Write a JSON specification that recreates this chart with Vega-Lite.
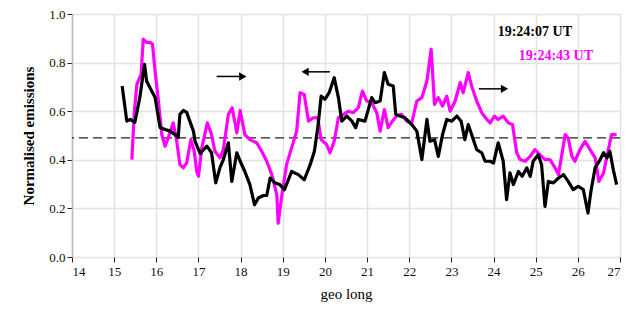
{
  "$schema": "https://vega.github.io/schema/vega-lite/v6.json",
  "autosize": {"type": "none"},
  "padding": {"left": 72, "top": 14, "right": 12, "bottom": 52},
  "width": 548,
  "height": 243,
  "background": "white",
  "config": {
    "view": {"stroke": null},
    "font": "Liberation Serif",
    "axis": {
      "labelFont": "Liberation Serif",
      "titleFont": "Liberation Serif",
      "labelFontSize": 13,
      "labelColor": "#111",
      "gridColor": "#e2e2e2",
      "gridWidth": 1.5,
      "tickColor": "#222",
      "tickSize": 5,
      "domainColor": "#bbbbbb",
      "domainWidth": 1.5
    }
  },
  "datasets": {
    "lines": [
      {"s": "b", "x": 15.19, "y": 0.704}, {"s": "b", "x": 15.30, "y": 0.559}, {"s": "b", "x": 15.38, "y": 0.566}, {"s": "b", "x": 15.49, "y": 0.554},
      {"s": "b", "x": 15.61, "y": 0.657}, {"s": "b", "x": 15.72, "y": 0.793}, {"s": "b", "x": 15.77, "y": 0.724}, {"s": "b", "x": 15.89, "y": 0.683},
      {"s": "b", "x": 15.97, "y": 0.657}, {"s": "b", "x": 16.09, "y": 0.533}, {"s": "b", "x": 16.21, "y": 0.525}, {"s": "b", "x": 16.33, "y": 0.518},
      {"s": "b", "x": 16.44, "y": 0.504}, {"s": "b", "x": 16.52, "y": 0.492}, {"s": "b", "x": 16.56, "y": 0.587}, {"s": "b", "x": 16.64, "y": 0.603},
      {"s": "b", "x": 16.72, "y": 0.595}, {"s": "b", "x": 16.88, "y": 0.518}, {"s": "b", "x": 16.92, "y": 0.476}, {"s": "b", "x": 17.04, "y": 0.426},
      {"s": "b", "x": 17.20, "y": 0.456}, {"s": "b", "x": 17.31, "y": 0.429}, {"s": "b", "x": 17.41, "y": 0.305}, {"s": "b", "x": 17.51, "y": 0.368},
      {"s": "b", "x": 17.59, "y": 0.401}, {"s": "b", "x": 17.71, "y": 0.470}, {"s": "b", "x": 17.79, "y": 0.311}, {"s": "b", "x": 17.91, "y": 0.429},
      {"s": "b", "x": 17.99, "y": 0.394}, {"s": "b", "x": 18.10, "y": 0.352}, {"s": "b", "x": 18.22, "y": 0.298}, {"s": "b", "x": 18.33, "y": 0.215},
      {"s": "b", "x": 18.42, "y": 0.243}, {"s": "b", "x": 18.54, "y": 0.253}, {"s": "b", "x": 18.62, "y": 0.253}, {"s": "b", "x": 18.70, "y": 0.325},
      {"s": "b", "x": 18.82, "y": 0.305}, {"s": "b", "x": 18.93, "y": 0.298}, {"s": "b", "x": 19.04, "y": 0.277}, {"s": "b", "x": 19.21, "y": 0.352},
      {"s": "b", "x": 19.37, "y": 0.339}, {"s": "b", "x": 19.51, "y": 0.318}, {"s": "b", "x": 19.65, "y": 0.380}, {"s": "b", "x": 19.75, "y": 0.435},
      {"s": "b", "x": 19.84, "y": 0.545}, {"s": "b", "x": 19.91, "y": 0.662}, {"s": "b", "x": 20.00, "y": 0.649}, {"s": "b", "x": 20.10, "y": 0.676},
      {"s": "b", "x": 20.22, "y": 0.738}, {"s": "b", "x": 20.32, "y": 0.656}, {"s": "b", "x": 20.40, "y": 0.559}, {"s": "b", "x": 20.52, "y": 0.580},
      {"s": "b", "x": 20.64, "y": 0.559}, {"s": "b", "x": 20.73, "y": 0.532}, {"s": "b", "x": 20.79, "y": 0.566}, {"s": "b", "x": 20.95, "y": 0.559},
      {"s": "b", "x": 21.11, "y": 0.656}, {"s": "b", "x": 21.19, "y": 0.635}, {"s": "b", "x": 21.31, "y": 0.642}, {"s": "b", "x": 21.41, "y": 0.759},
      {"s": "b", "x": 21.50, "y": 0.711}, {"s": "b", "x": 21.62, "y": 0.704}, {"s": "b", "x": 21.68, "y": 0.587}, {"s": "b", "x": 21.78, "y": 0.580},
      {"s": "b", "x": 21.90, "y": 0.573}, {"s": "b", "x": 22.06, "y": 0.545}, {"s": "b", "x": 22.18, "y": 0.518}, {"s": "b", "x": 22.30, "y": 0.401},
      {"s": "b", "x": 22.42, "y": 0.566}, {"s": "b", "x": 22.49, "y": 0.476}, {"s": "b", "x": 22.60, "y": 0.483}, {"s": "b", "x": 22.69, "y": 0.414},
      {"s": "b", "x": 22.79, "y": 0.504}, {"s": "b", "x": 22.89, "y": 0.566}, {"s": "b", "x": 23.01, "y": 0.559}, {"s": "b", "x": 23.13, "y": 0.580},
      {"s": "b", "x": 23.23, "y": 0.559}, {"s": "b", "x": 23.32, "y": 0.483}, {"s": "b", "x": 23.40, "y": 0.545}, {"s": "b", "x": 23.48, "y": 0.504},
      {"s": "b", "x": 23.60, "y": 0.442}, {"s": "b", "x": 23.72, "y": 0.429}, {"s": "b", "x": 23.80, "y": 0.394}, {"s": "b", "x": 23.92, "y": 0.394},
      {"s": "b", "x": 24.00, "y": 0.387}, {"s": "b", "x": 24.11, "y": 0.470}, {"s": "b", "x": 24.23, "y": 0.394}, {"s": "b", "x": 24.31, "y": 0.236},
      {"s": "b", "x": 24.39, "y": 0.346}, {"s": "b", "x": 24.47, "y": 0.298}, {"s": "b", "x": 24.59, "y": 0.352}, {"s": "b", "x": 24.68, "y": 0.332},
      {"s": "b", "x": 24.79, "y": 0.367}, {"s": "b", "x": 24.87, "y": 0.332}, {"s": "b", "x": 24.94, "y": 0.394}, {"s": "b", "x": 25.06, "y": 0.421},
      {"s": "b", "x": 25.14, "y": 0.380}, {"s": "b", "x": 25.22, "y": 0.208}, {"s": "b", "x": 25.30, "y": 0.311}, {"s": "b", "x": 25.42, "y": 0.305},
      {"s": "b", "x": 25.54, "y": 0.325}, {"s": "b", "x": 25.66, "y": 0.339}, {"s": "b", "x": 25.77, "y": 0.311}, {"s": "b", "x": 25.89, "y": 0.277},
      {"s": "b", "x": 26.01, "y": 0.291}, {"s": "b", "x": 26.13, "y": 0.277}, {"s": "b", "x": 26.24, "y": 0.181}, {"s": "b", "x": 26.31, "y": 0.270},
      {"s": "b", "x": 26.41, "y": 0.367}, {"s": "b", "x": 26.53, "y": 0.401}, {"s": "b", "x": 26.61, "y": 0.429}, {"s": "b", "x": 26.69, "y": 0.408},
      {"s": "b", "x": 26.76, "y": 0.435}, {"s": "b", "x": 26.84, "y": 0.360}, {"s": "b", "x": 26.92, "y": 0.298},

      {"s": "m", "x": 15.42, "y": 0.401}, {"s": "m", "x": 15.48, "y": 0.600}, {"s": "m", "x": 15.54, "y": 0.711}, {"s": "m", "x": 15.64, "y": 0.752},
      {"s": "m", "x": 15.69, "y": 0.897}, {"s": "m", "x": 15.77, "y": 0.883}, {"s": "m", "x": 15.85, "y": 0.883}, {"s": "m", "x": 15.91, "y": 0.876},
      {"s": "m", "x": 15.97, "y": 0.766}, {"s": "m", "x": 16.05, "y": 0.642}, {"s": "m", "x": 16.13, "y": 0.504}, {"s": "m", "x": 16.21, "y": 0.456},
      {"s": "m", "x": 16.28, "y": 0.490}, {"s": "m", "x": 16.40, "y": 0.552}, {"s": "m", "x": 16.48, "y": 0.483}, {"s": "m", "x": 16.56, "y": 0.380},
      {"s": "m", "x": 16.64, "y": 0.367}, {"s": "m", "x": 16.72, "y": 0.387}, {"s": "m", "x": 16.82, "y": 0.483}, {"s": "m", "x": 16.90, "y": 0.435},
      {"s": "m", "x": 16.96, "y": 0.352}, {"s": "m", "x": 17.00, "y": 0.332}, {"s": "m", "x": 17.08, "y": 0.449}, {"s": "m", "x": 17.21, "y": 0.552},
      {"s": "m", "x": 17.31, "y": 0.504}, {"s": "m", "x": 17.39, "y": 0.435}, {"s": "m", "x": 17.51, "y": 0.408}, {"s": "m", "x": 17.59, "y": 0.442},
      {"s": "m", "x": 17.71, "y": 0.587}, {"s": "m", "x": 17.80, "y": 0.614}, {"s": "m", "x": 17.91, "y": 0.511}, {"s": "m", "x": 17.99, "y": 0.603},
      {"s": "m", "x": 18.10, "y": 0.504}, {"s": "m", "x": 18.22, "y": 0.483}, {"s": "m", "x": 18.38, "y": 0.470}, {"s": "m", "x": 18.50, "y": 0.435},
      {"s": "m", "x": 18.62, "y": 0.394}, {"s": "m", "x": 18.74, "y": 0.339}, {"s": "m", "x": 18.86, "y": 0.256}, {"s": "m", "x": 18.89, "y": 0.139},
      {"s": "m", "x": 18.98, "y": 0.256}, {"s": "m", "x": 19.09, "y": 0.380}, {"s": "m", "x": 19.21, "y": 0.449}, {"s": "m", "x": 19.33, "y": 0.518},
      {"s": "m", "x": 19.41, "y": 0.676}, {"s": "m", "x": 19.51, "y": 0.669}, {"s": "m", "x": 19.61, "y": 0.559}, {"s": "m", "x": 19.72, "y": 0.573},
      {"s": "m", "x": 19.83, "y": 0.573}, {"s": "m", "x": 19.91, "y": 0.483}, {"s": "m", "x": 20.04, "y": 0.463}, {"s": "m", "x": 20.12, "y": 0.429},
      {"s": "m", "x": 20.22, "y": 0.476}, {"s": "m", "x": 20.32, "y": 0.573}, {"s": "m", "x": 20.44, "y": 0.587}, {"s": "m", "x": 20.56, "y": 0.600},
      {"s": "m", "x": 20.67, "y": 0.594}, {"s": "m", "x": 20.79, "y": 0.614}, {"s": "m", "x": 20.89, "y": 0.683}, {"s": "m", "x": 20.99, "y": 0.642},
      {"s": "m", "x": 21.11, "y": 0.635}, {"s": "m", "x": 21.23, "y": 0.594}, {"s": "m", "x": 21.31, "y": 0.518}, {"s": "m", "x": 21.41, "y": 0.607},
      {"s": "m", "x": 21.50, "y": 0.532}, {"s": "m", "x": 21.60, "y": 0.559}, {"s": "m", "x": 21.70, "y": 0.580}, {"s": "m", "x": 21.82, "y": 0.587},
      {"s": "m", "x": 21.94, "y": 0.559}, {"s": "m", "x": 22.06, "y": 0.552}, {"s": "m", "x": 22.18, "y": 0.642}, {"s": "m", "x": 22.30, "y": 0.656},
      {"s": "m", "x": 22.42, "y": 0.724}, {"s": "m", "x": 22.52, "y": 0.855}, {"s": "m", "x": 22.60, "y": 0.628}, {"s": "m", "x": 22.69, "y": 0.656},
      {"s": "m", "x": 22.79, "y": 0.621}, {"s": "m", "x": 22.89, "y": 0.662}, {"s": "m", "x": 22.97, "y": 0.600}, {"s": "m", "x": 23.09, "y": 0.642},
      {"s": "m", "x": 23.21, "y": 0.718}, {"s": "m", "x": 23.28, "y": 0.676}, {"s": "m", "x": 23.40, "y": 0.759}, {"s": "m", "x": 23.48, "y": 0.704},
      {"s": "m", "x": 23.60, "y": 0.642}, {"s": "m", "x": 23.72, "y": 0.594}, {"s": "m", "x": 23.84, "y": 0.566}, {"s": "m", "x": 23.92, "y": 0.552},
      {"s": "m", "x": 24.02, "y": 0.580}, {"s": "m", "x": 24.11, "y": 0.566}, {"s": "m", "x": 24.23, "y": 0.580}, {"s": "m", "x": 24.35, "y": 0.552},
      {"s": "m", "x": 24.45, "y": 0.545}, {"s": "m", "x": 24.55, "y": 0.429}, {"s": "m", "x": 24.63, "y": 0.401}, {"s": "m", "x": 24.75, "y": 0.394},
      {"s": "m", "x": 24.87, "y": 0.414}, {"s": "m", "x": 24.98, "y": 0.442}, {"s": "m", "x": 25.10, "y": 0.421}, {"s": "m", "x": 25.22, "y": 0.401},
      {"s": "m", "x": 25.34, "y": 0.401}, {"s": "m", "x": 25.46, "y": 0.367}, {"s": "m", "x": 25.54, "y": 0.339}, {"s": "m", "x": 25.62, "y": 0.421},
      {"s": "m", "x": 25.70, "y": 0.504}, {"s": "m", "x": 25.77, "y": 0.490}, {"s": "m", "x": 25.86, "y": 0.414}, {"s": "m", "x": 25.93, "y": 0.394},
      {"s": "m", "x": 26.05, "y": 0.442}, {"s": "m", "x": 26.17, "y": 0.476}, {"s": "m", "x": 26.29, "y": 0.442}, {"s": "m", "x": 26.41, "y": 0.408},
      {"s": "m", "x": 26.50, "y": 0.311}, {"s": "m", "x": 26.61, "y": 0.346}, {"s": "m", "x": 26.69, "y": 0.414}, {"s": "m", "x": 26.80, "y": 0.504},
      {"s": "m", "x": 26.92, "y": 0.504}
    ],
    "arrows": [
      {"x1": 17.43, "x2": 18.10, "y": 0.743, "head": 18.05, "dir": "right"},
      {"x1": 19.50, "x2": 20.12, "y": 0.762, "head": 19.53, "dir": "left"},
      {"x1": 23.65, "x2": 24.30, "y": 0.692, "head": 24.26, "dir": "right"}
    ],
    "labels": [
      {"x": 24.98, "y": 0.926, "t": "19:24:07 UT", "c": "b"},
      {"x": 25.48, "y": 0.826, "t": "19:24:43 UT", "c": "m"}
    ]
  },
  "layer": [
    {
      "data": {"values": [{"ref": 0.49}]},
      "mark": {"type": "rule", "color": "#222", "strokeWidth": 1.3, "strokeDash": [9, 5]},
      "encoding": {
        "y": {
          "field": "ref", "type": "quantitative",
          "scale": {"domain": [0, 1], "nice": false},
          "axis": {
            "title": "Normalised emissions", "titleFontSize": 15, "titleFontWeight": "bold",
            "titleFont": "Liberation Serif", "labelFont": "Liberation Serif", "labelFontSize": 13,
            "titleColor": "#000", "titlePadding": 12, "format": ".1f", "values": [0, 0.2, 0.4, 0.6, 0.8, 1.0],
            "labelPadding": 2
          }
        }
      }
    },
    {
      "data": {"name": "lines"},
      "transform": [{"filter": "datum.s == 'm'"}],
      "mark": {"type": "line", "color": "#ff00ff", "strokeWidth": 3.2, "strokeJoin": "round"},
      "encoding": {
        "x": {
          "field": "x", "type": "quantitative",
          "scale": {"domain": [14, 27], "nice": false},
          "axis": {
            "title": "geo long", "titleFontSize": 15, "titleFontWeight": "normal", "titleColor": "#000",
            "titleFont": "Liberation Serif", "labelFont": "Liberation Serif", "labelFontSize": 13,
            "values": [14, 15, 16, 17, 18, 19, 20, 21, 22, 23, 24, 25, 26, 27],
            "domain": false, "titlePadding": 8, "labelPadding": 3
          }
        },
        "y": {"field": "y", "type": "quantitative"}
      }
    },
    {
      "data": {"name": "lines"},
      "transform": [{"filter": "datum.s == 'b'"}],
      "mark": {"type": "line", "color": "#000000", "strokeWidth": 3.2, "strokeJoin": "round"},
      "encoding": {
        "x": {"field": "x", "type": "quantitative"},
        "y": {"field": "y", "type": "quantitative"}
      }
    },
    {
      "data": {"name": "arrows"},
      "mark": {"type": "rule", "color": "#000", "strokeWidth": 1.5},
      "encoding": {
        "x": {"field": "x1", "type": "quantitative"},
        "x2": {"field": "x2"},
        "y": {"field": "y", "type": "quantitative"}
      }
    },
    {
      "data": {"name": "arrows"},
      "mark": {"type": "point", "filled": true, "color": "#000", "opacity": 1, "size": 70},
      "encoding": {
        "x": {"field": "head", "type": "quantitative"},
        "y": {"field": "y", "type": "quantitative"},
        "shape": {
          "field": "dir", "type": "nominal",
          "scale": {"domain": ["right", "left"], "range": ["triangle-right", "triangle-left"]},
          "legend": null
        }
      }
    },
    {
      "data": {"name": "labels"},
      "mark": {"type": "text", "font": "Liberation Serif", "fontSize": 14, "fontWeight": "bold", "align": "center", "baseline": "middle"},
      "encoding": {
        "x": {"field": "x", "type": "quantitative"},
        "y": {"field": "y", "type": "quantitative"},
        "text": {"field": "t"},
        "color": {
          "field": "c", "type": "nominal",
          "scale": {"domain": ["b", "m"], "range": ["#000000", "#ff00ff"]},
          "legend": null
        }
      }
    }
  ]
}
